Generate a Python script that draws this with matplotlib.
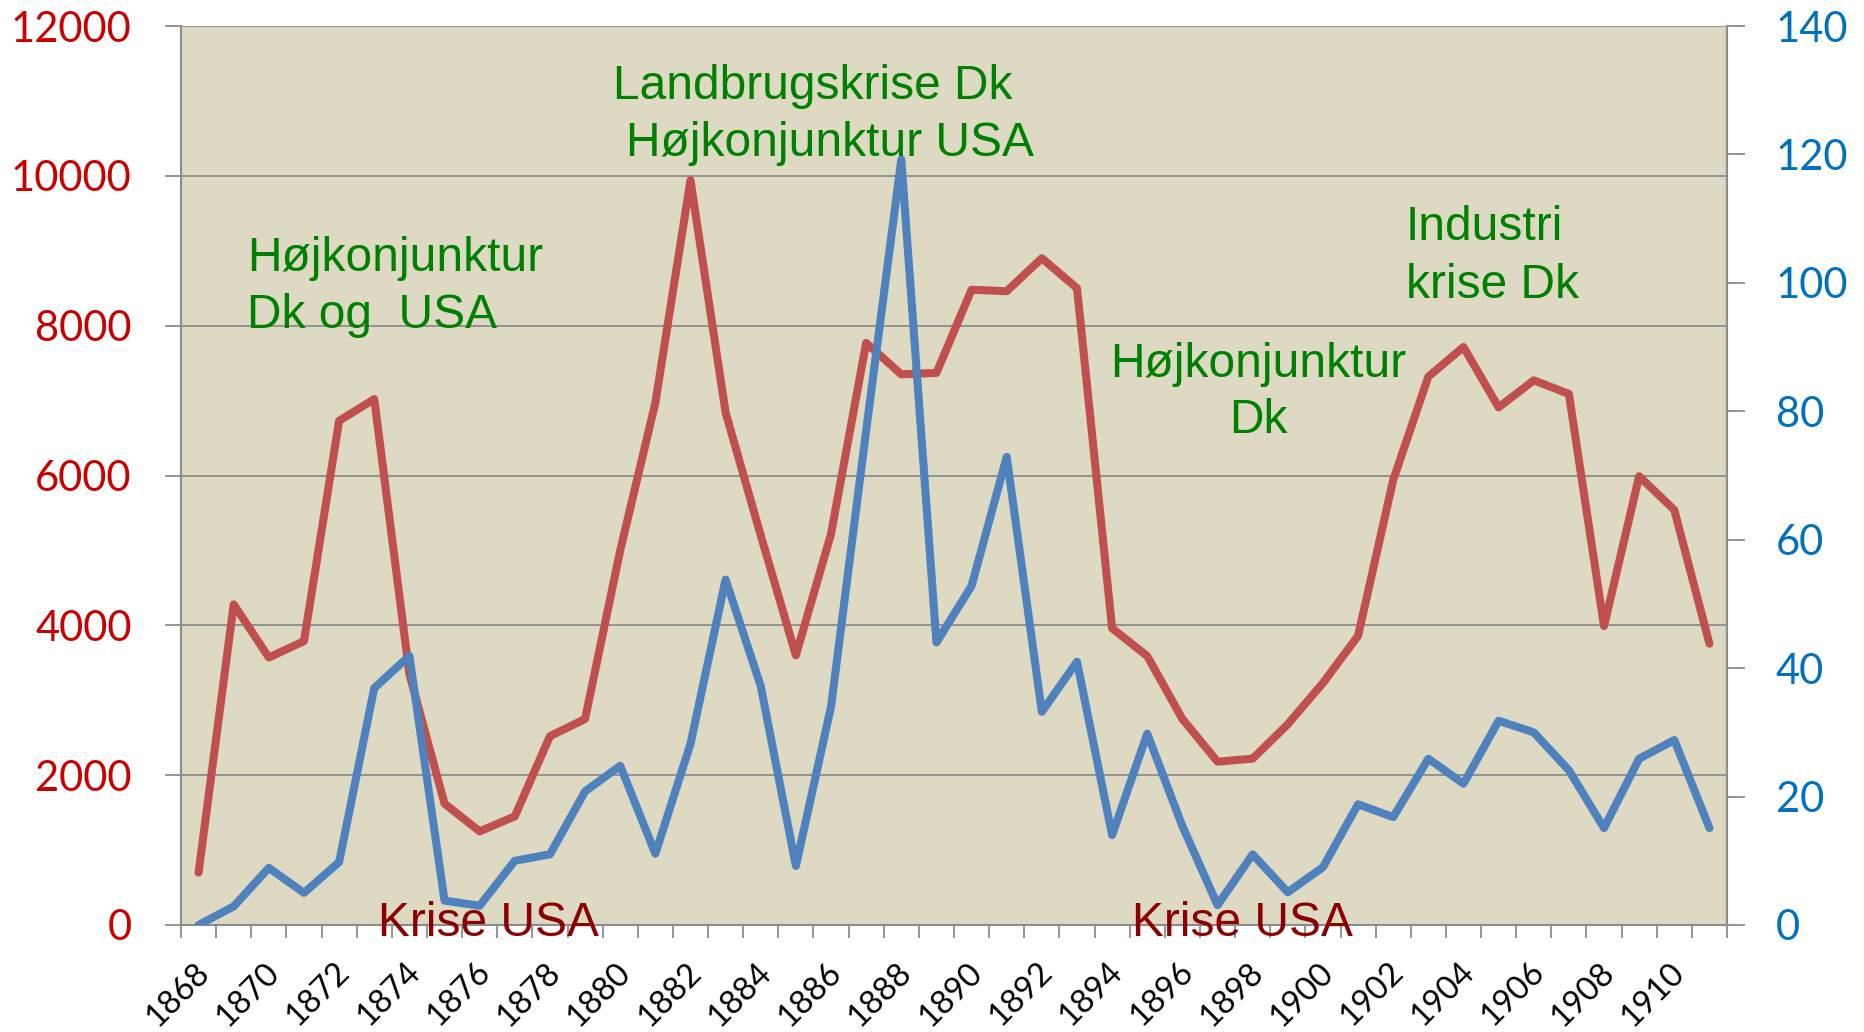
import matplotlib
matplotlib.use("Agg")
import matplotlib.pyplot as plt
import matplotlib.transforms as mtransforms

# Data
years = list(range(1868, 1912))

# red series, left axis
red_values = [700, 4280, 3570, 3790, 6730, 7020, 3350, 1620, 1250, 1450,
              2520, 2750, 5000, 6970, 9940, 6840, 5200, 3600, 5220, 7770,
              7350, 7370, 8480, 8460, 8900, 8500, 3960, 3590, 2750, 2180,
              2220, 2680, 3230, 3860, 5940, 7320, 7715, 6910, 7270, 7090,
              3990, 5990, 5540, 3755]

# blue series, right axis
blue_values = [0, 2.9, 8.9, 5, 9.8, 36.9, 41.9, 3.8, 3, 10,
               11, 20.8, 24.8, 11.1, 28.2, 53.8, 37.2, 9.2, 34, 77,
               119.2, 44, 52.8, 72.9, 33.2, 41, 14, 29.8, 15.4, 3.1,
               11, 5.1, 9, 18.8, 16.8, 25.9, 22, 31.8, 30, 24.1,
               15.1, 25.9, 28.8, 15.1]

left_ticks = [0, 2000, 4000, 6000, 8000, 10000, 12000]
right_ticks = [0, 20, 40, 60, 80, 100, 120, 140]
year_labels = years[::2]

# annotation texts: (text, x in years, y on left axis, colour)
notes = [
    ("Højkonjunktur", 1869.38, 8730, "#008000"),
    ("Dk og  USA", 1869.38, 7970, "#008000"),
    ("Landbrugskrise Dk", 1879.79, 11030, "#008000"),
    ("Højkonjunktur USA", 1880.16, 10265, "#008000"),
    ("Højkonjunktur", 1893.94, 7315, "#008000"),
    ("Dk", 1897.32, 6567, "#008000"),
    ("Industri", 1902.36, 9144, "#008000"),
    ("krise Dk", 1902.36, 8375, "#008000"),
    ("Krise USA", 1873.10, -150, "#8B0000"),
    ("Krise USA", 1894.56, -150, "#8B0000"),
]

plt.rcParams['font.family'] = ['Lato', 'DejaVu Sans']

GRAY = '#8C8C8C'

fig = plt.figure(figsize=(18.64, 10.32), dpi=100)
ax = fig.add_axes([181 / 1864, 107 / 1032, 1546 / 1864, 899 / 1032])
ax.set_facecolor('#DDD9C3')

ax.plot(years, red_values, color='#C0504D', lw=5.8,
        solid_joinstyle='round', solid_capstyle='round', zorder=3)

ax.set_xlim(1867.5, 1911.5)
ax.set_ylim(0, 12000)
ax.set_yticks(left_ticks)
ax.set_yticklabels([str(v) for v in left_ticks])
ax.grid(axis='y', color=GRAY, lw=1.3)
ax.set_axisbelow(True)

for side in ['left', 'bottom', 'right']:
    ax.spines[side].set_color(GRAY)
    ax.spines[side].set_linewidth(1.5)
ax.spines['top'].set_visible(False)

ax.tick_params(axis='y', direction='out', length=11.5, width=1.3, color=GRAY,
               pad=24, labelsize=30, labelcolor='#C80000')

# x-axis: labels every second year, tick marks between categories
ax.set_xticks(year_labels)
ax.set_xticklabels([str(y) for y in year_labels], rotation=45, ha='right',
                   va='top', rotation_mode='anchor')
ax.set_xticks([y - 0.5 for y in years] + [years[-1] + 0.5], minor=True)
ax.tick_params(axis='x', which='major', length=0, pad=23, labelsize=23.5)
ax.tick_params(axis='x', which='minor', direction='out', length=9.5,
               width=1.3, color=GRAY)
# small shift to the left, as in the original
shift = mtransforms.ScaledTranslation(-5 / 100, 0, fig.dpi_scale_trans)
for lab in ax.get_xticklabels():
    lab.set_transform(lab.get_transform() + shift)

# second axis for the blue series
ax2 = ax.twinx()
ax2.plot(years, blue_values, color='#4F81BD', lw=5.8,
         solid_joinstyle='round', solid_capstyle='round', zorder=3)
ax2.set_ylim(0, 140)
ax2.set_yticks(right_ticks)
ax2.set_yticklabels([str(v) for v in right_ticks])
for side in ['left', 'bottom', 'top']:
    ax2.spines[side].set_visible(False)
ax2.spines['right'].set_color(GRAY)
ax2.spines['right'].set_linewidth(1.5)
ax2.tick_params(axis='y', direction='out', length=13, width=1.3, color=GRAY,
                pad=22, labelsize=30, labelcolor='#0070C0')

for text, x, y, col in notes:
    ax2.text(x, y, text, transform=ax.transData, color=col, fontsize=34.5,
             family='Liberation Sans', ha='left', va='baseline',
             clip_on=False, zorder=10)

fig.savefig("out.png", dpi=100, facecolor='white')
